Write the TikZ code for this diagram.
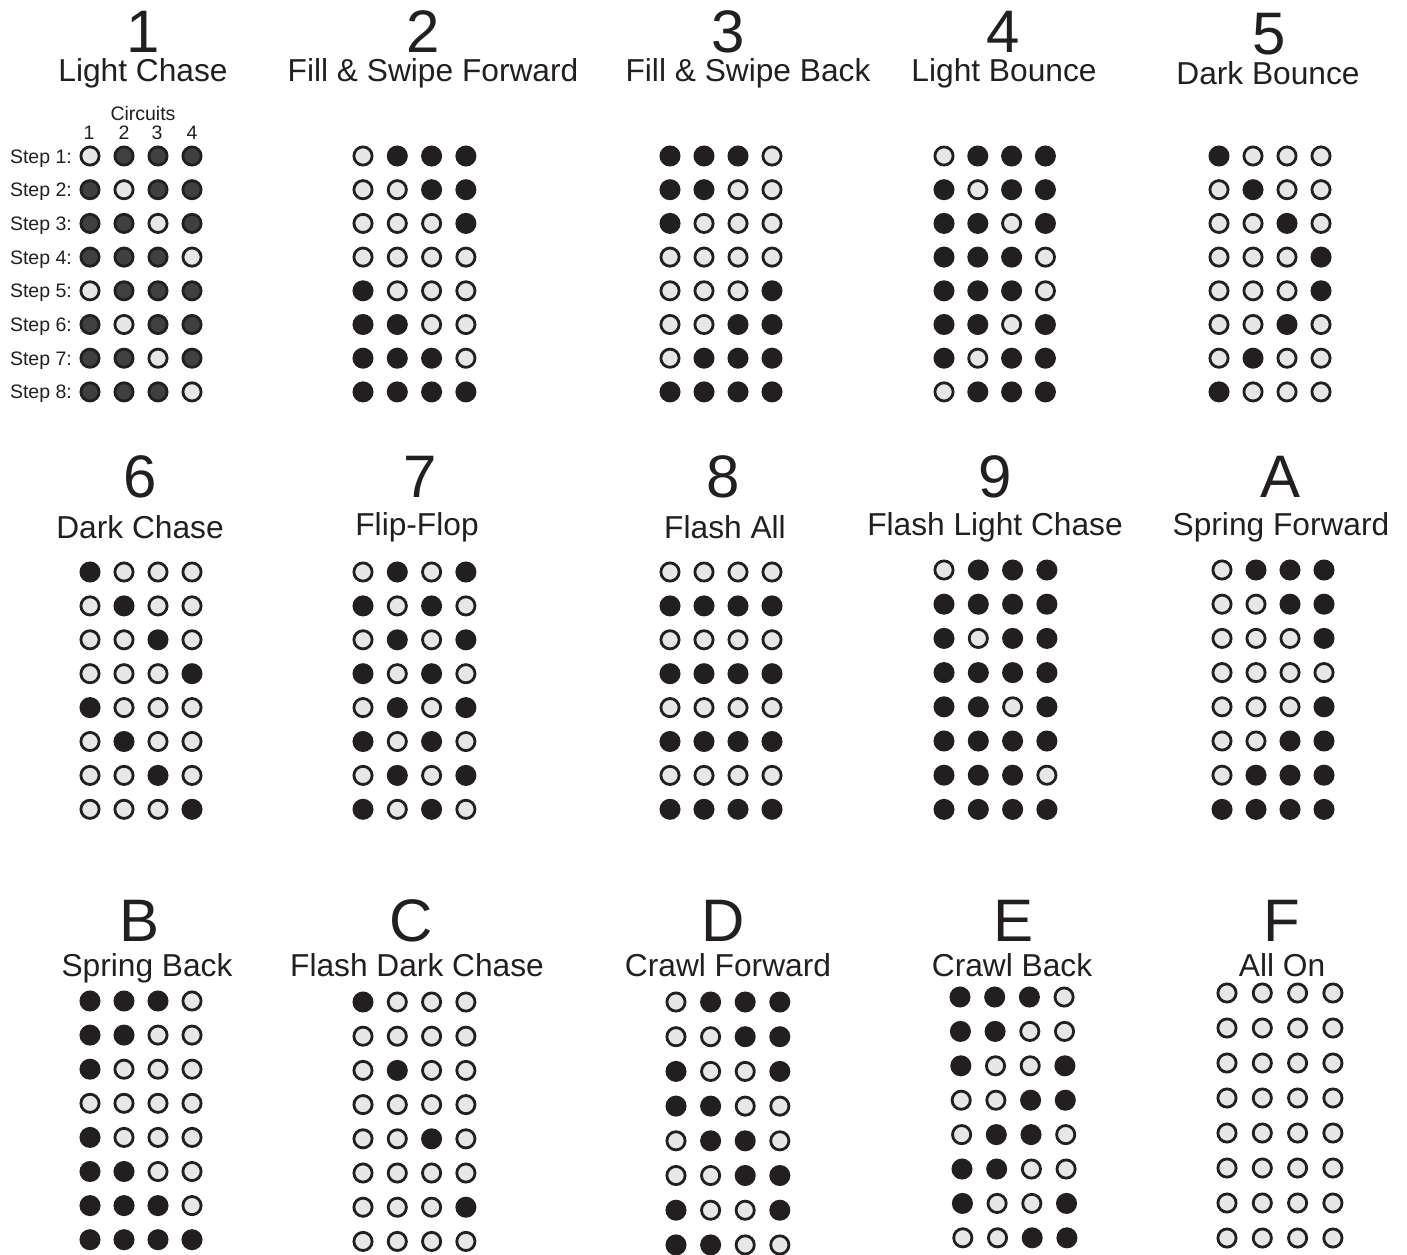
\documentclass[tikz,border=0pt]{standalone}
\usepackage{fontspec}
\setmainfont{Liberation Sans}
\definecolor{ledblack}{HTML}{231F20}
\definecolor{ledlight}{HTML}{E6E7E8}
\definecolor{ledgray}{HTML}{404040}
\tikzset{
  ledbase/.style={circle, inner sep=0pt, minimum size=18.2pt, line width=2.8pt, draw=ledblack},
  ledA0/.style={ledbase, fill=ledlight},
  ledA1/.style={ledbase, fill=ledblack},
  ledB0/.style={ledbase, fill=ledlight},
  ledB1/.style={ledbase, fill=ledgray},
  bignum/.style={anchor=base, inner sep=0pt, text height=43pt, text depth=0pt, font=\fontsize{60}{60}\selectfont, text=ledblack},
  title/.style={anchor=base, inner sep=0pt, text height=22pt, text depth=6pt, font=\fontsize{31.7}{32}\selectfont, text=ledblack},
  smalltext/.style={anchor=base, inner sep=0pt, font=\fontsize{19.5}{20}\selectfont, text=ledblack},
  steplabel/.style={smalltext, anchor=base east},
}
% #1 name, #2 x0, #3 y0, #4 dx, #5 dy, #6 skew per row, #7 style prefix, #8 pattern
\newcommand\ledgrid[8]{%
  \foreach \pa/\pb/\pc/\pd [count=\rowi] in {#8} {
    \pgfmathsetmacro\yy{#3+(\rowi-1)*#5}
    \pgfmathsetmacro\xx{#2+(\rowi-1)*#6}
    \node[#7\pa] (#1-\rowi-1) at (\xx,\yy) {};
    \node[#7\pb] (#1-\rowi-2) at (\xx+#4,\yy) {};
    \node[#7\pc] (#1-\rowi-3) at (\xx+2*#4,\yy) {};
    \node[#7\pd] (#1-\rowi-4) at (\xx+3*#4,\yy) {};
  }%
}
\begin{document}
\begin{tikzpicture}[x=1pt,y=-1pt]
\useasboundingbox (0,0) rectangle (1407,1254);
\fill[white] (0,0) rectangle (1407,1254);

% ---------- titles row 1
\node[bignum] (n1) at (143,52) {1};
\node[title]  (l1) at (143,81) {Light Chase};
\node[bignum] (n2) at (423,52) {2};
\node[title]  (l2) at (433,81) {Fill \& Swipe Forward};
\node[bignum] (n3) at (728,52) {3};
\node[title]  (l3) at (748,81) {Fill \& Swipe Back};
\node[bignum] (n4) at (1003,52) {4};
\node[title]  (l4) at (1004,81) {Light Bounce};
\node[bignum] (n5) at (1269,54) {5};
\node[title]  (l5) at (1268,84) {Dark Bounce};

% ---------- titles row 2
\node[bignum] (n6) at (140,497) {6};
\node[title]  (l6) at (140,538) {Dark Chase};
\node[bignum] (n7) at (420,497) {7};
\node[title]  (l7) at (417,535) {Flip-Flop};
\node[bignum] (n8) at (723,497) {8};
\node[title]  (l8) at (725,538) {Flash All};
\node[bignum] (n9) at (995,497) {9};
\node[title]  (l9) at (995,535) {Flash Light Chase};
\node[bignum] (nA) at (1280,497) {A};
\node[title]  (lA) at (1281,535) {Spring Forward};

% ---------- titles row 3
\node[bignum] (nB) at (140,941) {B};
\node[title]  (lB) at (147,976) {Spring Back};
\node[bignum] (nC) at (411,941) {C};
\node[title]  (lC) at (417,976) {Flash Dark Chase};
\node[bignum] (nD) at (723,941) {D};
\node[title]  (lD) at (728,976) {Crawl Forward};
\node[bignum] (nE) at (1013,941) {E};
\node[title]  (lE) at (1012,976) {Crawl Back};
\node[bignum] (nF) at (1282,941) {F};
\node[title]  (lF) at (1282,976) {All On};

% ---------- panel 1 legend
\node[smalltext] (circ) at (143,120) {Circuits};
\node[smalltext] (c1) at (89,139) {1};
\node[smalltext] (c2) at (124,139) {2};
\node[smalltext] (c3) at (157,139) {3};
\node[smalltext] (c4) at (192,139) {4};
\foreach \k in {1,...,8} {
  \pgfmathsetmacro\yb{156+(\k-1)*33.7+7}
  \node[steplabel] (s\k) at (72,\yb) {Step \k:};
}

% ---------- grids
\ledgrid{p1}{90}{156}{34}{33.7}{0}{ledB}{0/1/1/1,1/0/1/1,1/1/0/1,1/1/1/0,0/1/1/1,1/0/1/1,1/1/0/1,1/1/1/0}
\ledgrid{p2}{363}{156}{34.3}{33.7}{0}{ledA}{0/1/1/1,0/0/1/1,0/0/0/1,0/0/0/0,1/0/0/0,1/1/0/0,1/1/1/0,1/1/1/1}
\ledgrid{p3}{670}{156}{34}{33.7}{0}{ledA}{1/1/1/0,1/1/0/0,1/0/0/0,0/0/0/0,0/0/0/1,0/0/1/1,0/1/1/1,1/1/1/1}
\ledgrid{p4}{944}{156}{33.8}{33.7}{0}{ledA}{0/1/1/1,1/0/1/1,1/1/0/1,1/1/1/0,1/1/1/0,1/1/0/1,1/0/1/1,0/1/1/1}
\ledgrid{p5}{1219}{156}{34}{33.7}{0}{ledA}{1/0/0/0,0/1/0/0,0/0/1/0,0/0/0/1,0/0/0/1,0/0/1/0,0/1/0/0,1/0/0/0}

\ledgrid{p6}{90}{572}{34}{33.9}{0}{ledA}{1/0/0/0,0/1/0/0,0/0/1/0,0/0/0/1,1/0/0/0,0/1/0/0,0/0/1/0,0/0/0/1}
\ledgrid{p7}{363}{572}{34.3}{33.9}{0}{ledA}{0/1/0/1,1/0/1/0,0/1/0/1,1/0/1/0,0/1/0/1,1/0/1/0,0/1/0/1,1/0/1/0}
\ledgrid{p8}{670}{572}{34}{33.9}{0}{ledA}{0/0/0/0,1/1/1/1,0/0/0/0,1/1/1/1,0/0/0/0,1/1/1/1,0/0/0/0,1/1/1/1}
\ledgrid{p9}{944}{570}{34.3}{34.2}{0}{ledA}{0/1/1/1,1/1/1/1,1/0/1/1,1/1/1/1,1/1/0/1,1/1/1/1,1/1/1/0,1/1/1/1}
\ledgrid{pA}{1222}{570}{34}{34.2}{0}{ledA}{0/1/1/1,0/0/1/1,0/0/0/1,0/0/0/0,0/0/0/1,0/0/1/1,0/1/1/1,1/1/1/1}

\ledgrid{pB}{90}{1001}{34}{34.1}{0}{ledA}{1/1/1/0,1/1/0/0,1/0/0/0,0/0/0/0,1/0/0/0,1/1/0/0,1/1/1/0,1/1/1/1}
\ledgrid{pC}{363}{1002}{34.3}{34.2}{0}{ledA}{1/0/0/0,0/0/0/0,0/1/0/0,0/0/0/0,0/0/1/0,0/0/0/0,0/0/0/1,0/0/0/0}
\ledgrid{pD}{676}{1002}{34.6}{34.7}{0}{ledA}{0/1/1/1,0/0/1/1,1/0/0/1,1/1/0/0,0/1/1/0,0/0/1/1,1/0/0/1,1/1/0/0}
\ledgrid{pE}{960}{997}{34.7}{34.4}{0.4}{ledA}{1/1/1/0,1/1/0/0,1/0/0/1,0/0/1/1,0/1/1/0,1/1/0/0,1/0/0/1,0/0/1/1}
\ledgrid{pF}{1227}{993}{35.3}{35}{0}{ledA}{0/0/0/0,0/0/0/0,0/0/0/0,0/0/0/0,0/0/0/0,0/0/0/0,0/0/0/0,0/0/0/0}
\end{tikzpicture}
\end{document}
